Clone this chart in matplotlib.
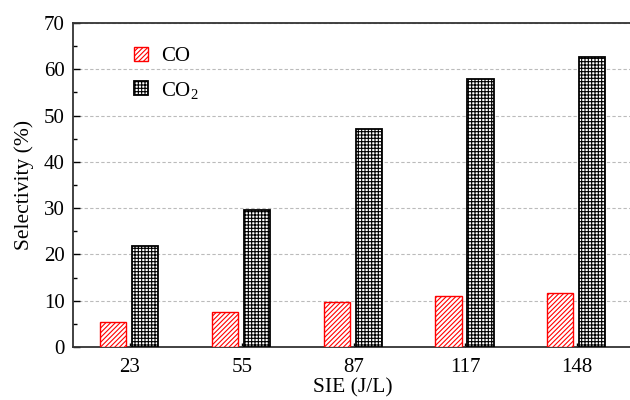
import matplotlib
matplotlib.use("Agg")
import matplotlib.pyplot as plt
import numpy as np

categories = ["23", "55", "87", "117", "148"]
co = [5.4, 7.6, 9.7, 11.0, 11.6]
co2 = [21.8, 29.5, 47.2, 57.8, 62.6]

plt.rcParams['font.family'] = ['Liberation Serif', 'DejaVu Serif']
plt.rcParams['mathtext.fontset'] = 'custom'
plt.rcParams['mathtext.rm'] = 'Liberation Serif'
plt.rcParams['mathtext.it'] = 'Liberation Serif:italic'
plt.rcParams['hatch.linewidth'] = 0.8

fig = plt.figure(figsize=(6.3, 4.0), dpi=100)
ax = fig.add_axes([73/630, 1-347/400, 560/630, 324/400])

x = np.arange(len(categories))
w = 0.235
b1 = ax.bar(x - 0.15, co, w, facecolor='white', edgecolor='red', hatch='///////', linewidth=1.0, label='CO', zorder=3)
b2 = ax.bar(x + 0.135, co2, w, facecolor='white', edgecolor='black', hatch='+++++', linewidth=1.3, label='CO$_\\mathrm{2}$', zorder=3)
for p in b1:
    p._hatch_color = matplotlib.colors.to_rgba('red')
for p in b2:
    p._hatch_color = matplotlib.colors.to_rgba('black')

ax.set_xlim(-0.51, 4.5)
ax.set_ylim(0, 70)
ax.set_yticks(np.arange(0, 71, 10))
ax.set_yticks(np.arange(5, 70, 10), minor=True)
ax.set_xticks(x)
ax.set_xticklabels(categories)
ax.yaxis.grid(True, which='major', linestyle=(0, (3, 2)), color='#bbbbbb', linewidth=0.8, zorder=0)
ax.set_axisbelow(True)

ax.spines['right'].set_visible(False)
for s in ['left', 'bottom', 'top']:
    ax.spines[s].set_linewidth(1.3)
    ax.spines[s].set_color('#333333')

ax.tick_params(axis='y', which='major', direction='in', length=5, width=1, labelsize=15, pad=6)
ax.tick_params(axis='y', which='minor', direction='in', length=3, width=1)
ax.tick_params(axis='x', which='major', direction='in', length=3, width=1, labelsize=15, pad=8)

ax.set_xlabel('SIE (J/L)', fontsize=15.5, labelpad=1)
ax.set_ylabel('Selectivity (%)', fontsize=15.5, labelpad=7)

leg = ax.legend(loc='upper left', bbox_to_anchor=(0.075, 0.985), frameon=False, fontsize=15,
                handlelength=0.68, handleheight=0.68, handletextpad=0.65, labelspacing=0.65)

fig.savefig('out.png', dpi=100)
